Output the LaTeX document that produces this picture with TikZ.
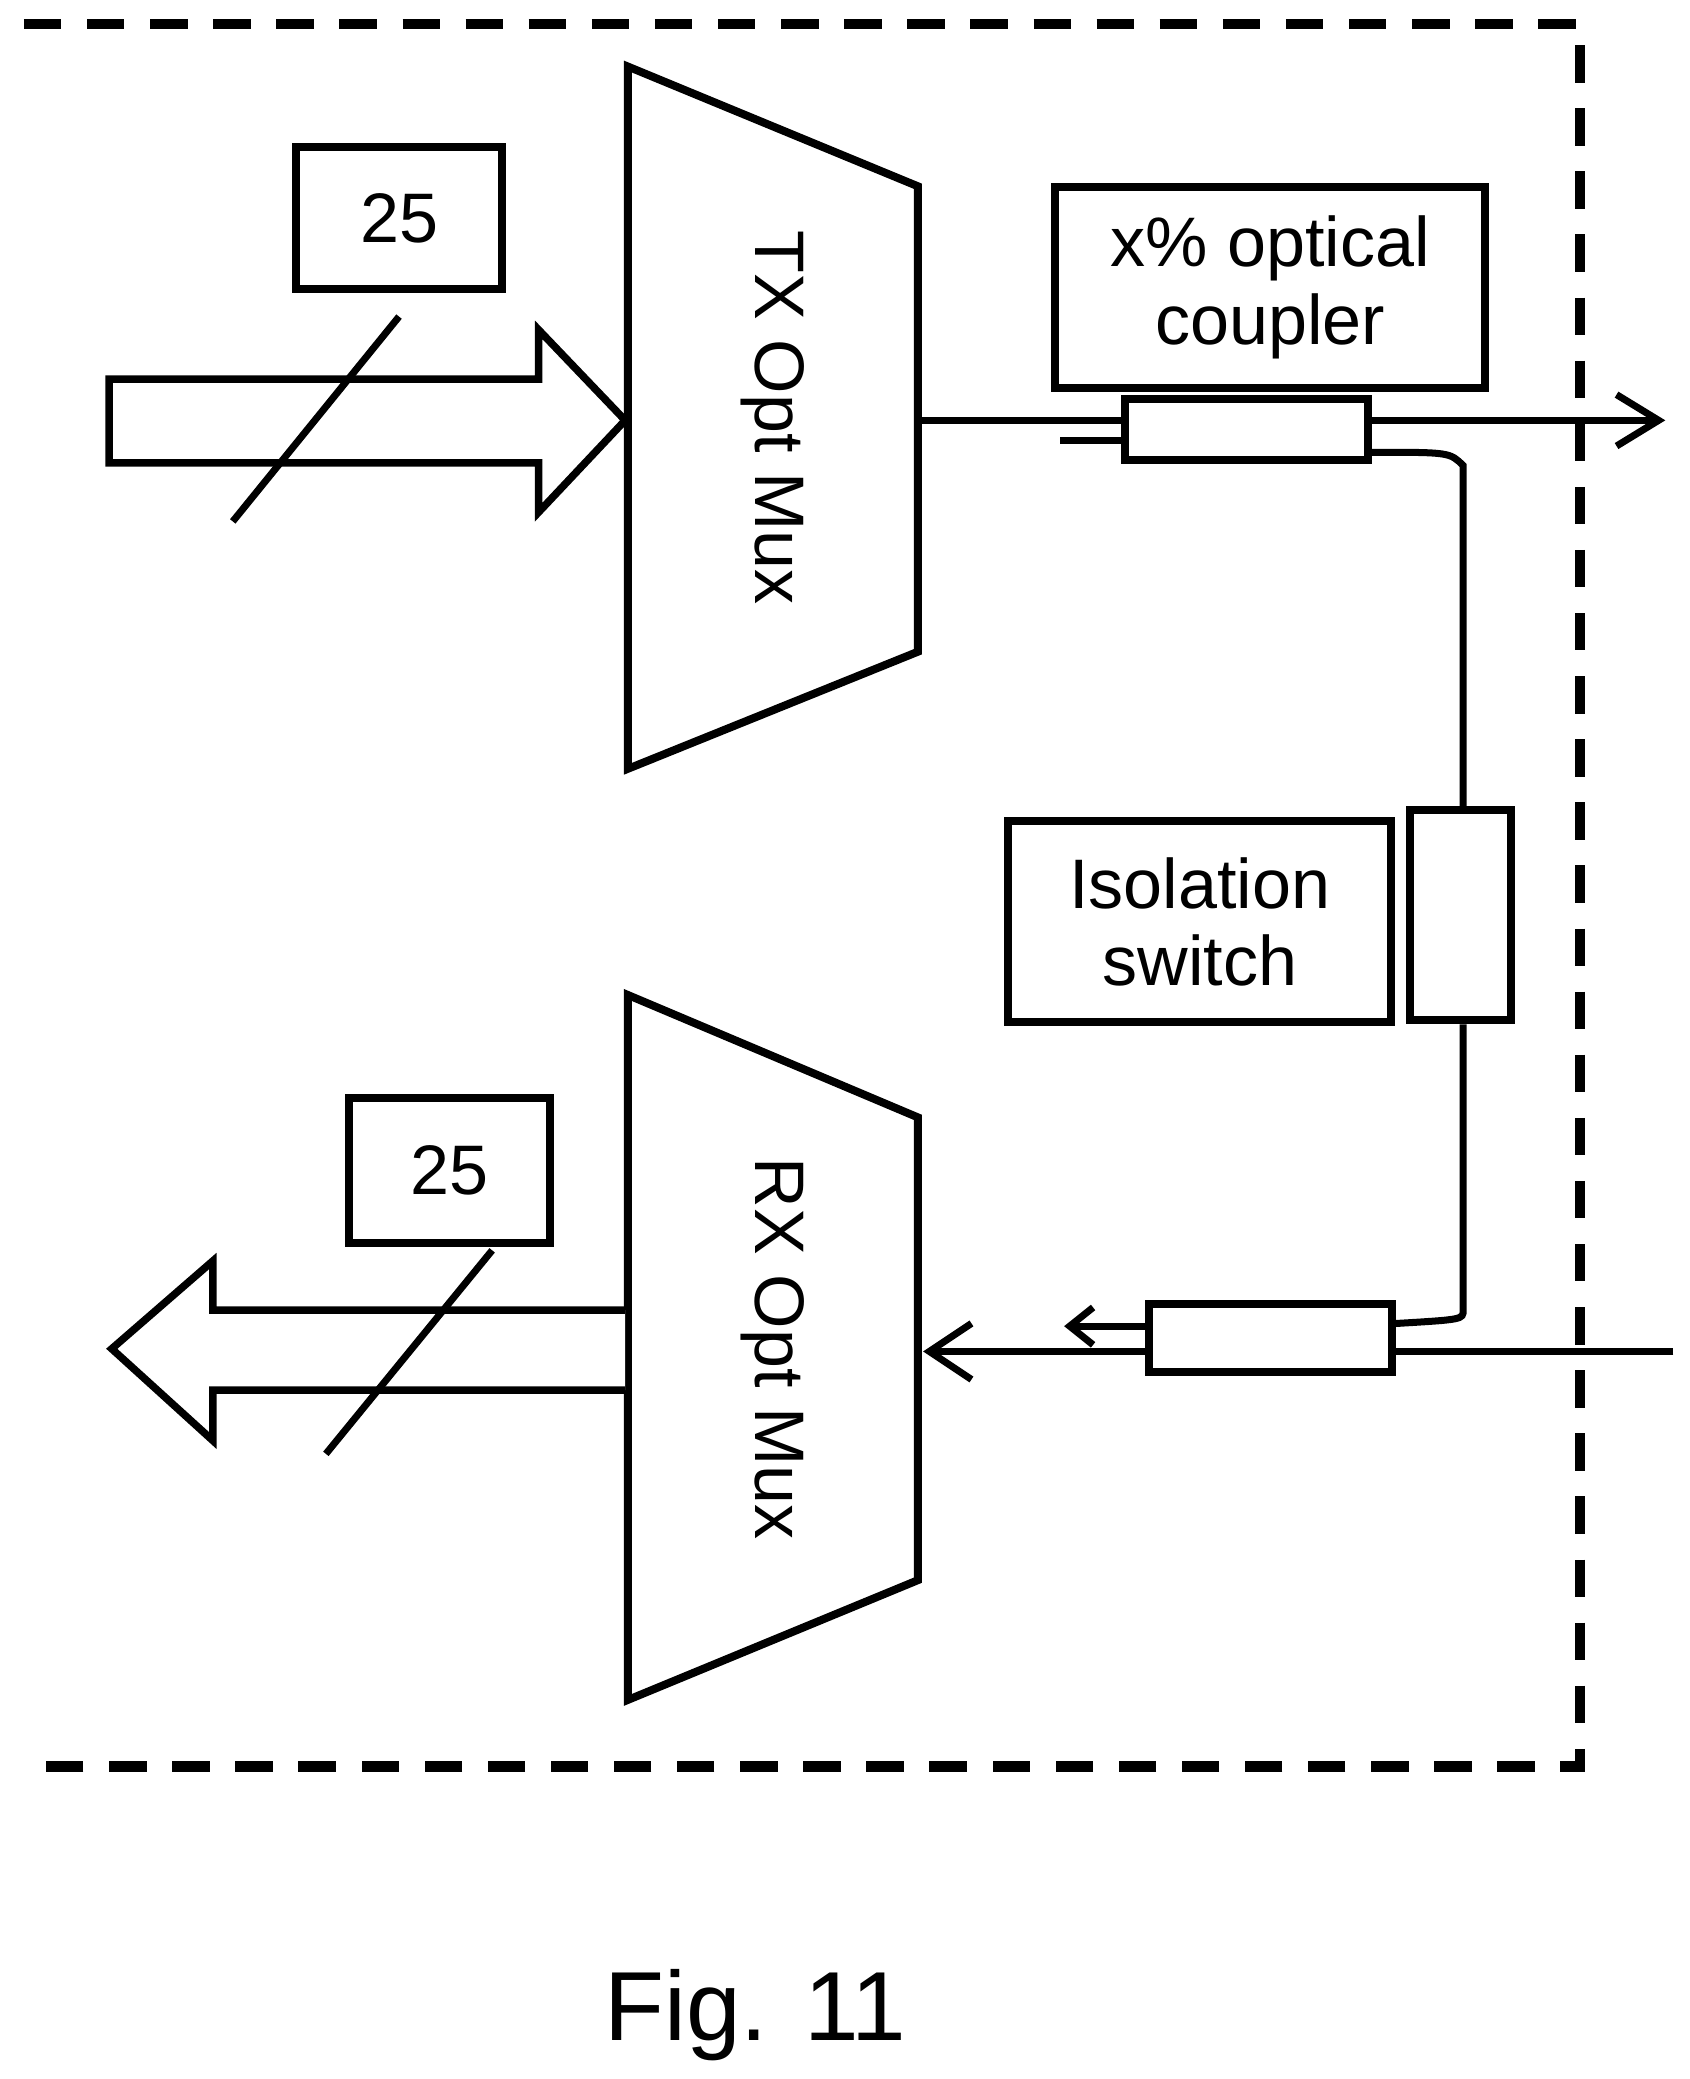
\documentclass[tikz,border=0pt]{standalone}
\usepackage{fontspec}
\setmainfont{Liberation Sans}
\usetikzlibrary{arrows.meta,positioning}
\tikzset{
	blk/.style={draw, line width=3.4pt, inner sep=0pt},
	lbl/.style={font=\fontsize{30}{33}\selectfont, align=center},
	fib/.style={line width=3pt},
	hollow/.style={draw, line width=3.2pt, fill=white},
}
\begin{document}
\begin{tikzpicture}[x=0.02cm, y=-0.02cm]
		\useasboundingbox (0,0) rectangle (1270,1563);
		% frame
		\draw[line width=4.5pt, dash pattern=on 16pt off 11pt] (18,18) -- (1188,18) -- (1188,1328) -- (18,1328);
		% muxes
		\draw[blk] (472,50) coordinate (txa) -- (690,140) -- (690,490) -- (472,578) coordinate (txb) -- cycle;
		\node[lbl, rotate=-90] (tx) at (581,314) {TX Opt Mux};
		\draw[blk] (472,748) coordinate (rxa) -- (690,840) -- (690,1188) -- (472,1278) coordinate (rxb) -- cycle;
		\node[lbl, rotate=-90] (rx) at (581,1014) {RX Opt Mux};
		% boxes
		\node[blk, lbl, minimum width=88pt, minimum height=61pt] (n1) at (300,164) {25};
		\node[blk, lbl, minimum width=86pt, minimum height=62pt] (n2) at (338,880) {25};
		\node[blk, lbl, minimum width=184pt, minimum height=86pt] (cpl) at (955,216) {x\% optical\\coupler};
		\node[blk, lbl, minimum width=164pt, minimum height=86pt] (iso) at (902,693) {Isolation\\switch};
		\node[blk, minimum width=104pt, minimum height=26pt] (c1) at (937,323) {};
		\node[blk, minimum width=104pt, minimum height=29pt] (c2) at (955,1006) {};
		\node[blk, minimum width=43pt, minimum height=90pt] (sw) at (1098,688) {};
		% bus arrows
		\draw[hollow] (82,285) -- (405,285) -- (405,248) -- (470,316) -- (405,385) -- (405,348) -- (82,348) -- cycle;
		\draw[fib] (175,392) -- (300,238);
		\draw[hollow] (470,985) -- (160,985) -- (160,948) -- (84,1014) -- (160,1083) -- (160,1045) -- (470,1045);
		\draw[fib] (245,1093) -- (370,940);
		% fibres
		\draw[fib] (690,316) -- (c1.west |- 0,316);
		\draw[fib] (797,331) -- (c1.west |- 0,331);
		\draw[fib, -{Straight Barb[length=18pt,width=22pt,line width=3pt]}] (c1.east |- 0,316) -- (1252,316);
		\draw[fib] (c1.east |- 0,340) .. controls (1090,340) .. (1100,350) -- (sw.north -| 1100,0);
		\draw[fib] (sw.south -| 1100,0) -- (1100,985) .. controls (1100,992) .. (c2.east |- 0,995);
		\draw[fib] (1258,1016) -- (c2.east |- 0,1016);
		\draw[fib, -{Straight Barb[length=18pt,width=24pt,line width=3pt]}] (c2.west |- 0,1016) -- (694,1016);
		\draw[fib, -{Straight Barb[length=10pt,width=16pt,line width=3pt]}] (c2.west |- 0,997) -- (800,997);
		\node[font=\fontsize{42}{48}\selectfont] (fig) at (568,1515) {Fig. 11};
	\end{tikzpicture}
\end{document}
